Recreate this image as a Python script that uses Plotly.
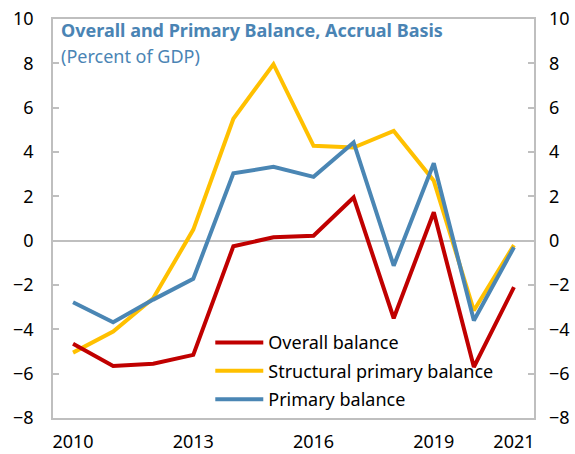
import plotly.graph_objects as go

years = list(range(2010, 2022))
overall = [-4.65, -5.65, -5.55, -5.15, -0.25, 0.15, 0.22, 1.95, -3.5, 1.28, -5.7, -2.1]
structural = [-5.05, -4.1, -2.6, 0.5, 5.5, 7.96, 4.28, 4.2, 4.95, 2.7, -3.15, -0.2]
primary = [-2.78, -3.68, -2.66, -1.72, 3.04, 3.33, 2.88, 4.43, -1.13, 3.49, -3.6, -0.3]
xticks = [2010, 2013, 2016, 2019, 2021]
yticks = [-8, -6, -4, -2, 0, 2, 4, 6, 8, 10]

RED = "#C00000"
YEL = "#FFC000"
BLU = "#4A86B4"
TITLE_BLUE = "#4A84B4"
GRID = "#BFBFBF"
FONT = "Noto Sans"

fig = go.Figure()
fig.add_trace(go.Scatter(x=years, y=structural, mode="lines", name="Structural primary balance",
                         line=dict(color=YEL, width=4), legendrank=2, legendgroup="b"))
fig.add_trace(go.Scatter(x=years, y=primary, mode="lines", name="Primary balance",
                         line=dict(color=BLU, width=4), legendrank=3, legendgroup="c"))
fig.add_trace(go.Scatter(x=years, y=overall, mode="lines", name="Overall balance",
                         line=dict(color=RED, width=4), legendrank=1, legendgroup="a"))
# invisible trace to activate right axis
fig.add_trace(go.Scatter(x=[years[0]], y=[0], yaxis="y2", mode="markers",
                         marker=dict(opacity=0), showlegend=False, hoverinfo="skip"))

axis_font = dict(family=FONT, size=18, color="#000000")
fig.update_layout(
    width=575, height=454,
    margin=dict(l=53, r=41, t=19, b=36),
    paper_bgcolor="white", plot_bgcolor="white",
    font=dict(family=FONT, size=18, color="#000000"),
    xaxis=dict(range=[2009.5, 2021.5], tickvals=xticks, ticktext=[str(t) for t in xticks],
               showgrid=False, zeroline=False, showline=True, linecolor=GRID, linewidth=1.5,
               mirror=True, ticks="", tickfont=axis_font, ticklabelstandoff=7, automargin=False),
    yaxis=dict(range=[-8, 10], tickvals=yticks, showgrid=False,
               zeroline=True, zerolinecolor=GRID, zerolinewidth=1.5,
               showline=True, linecolor=GRID, linewidth=1.5, mirror=True,
               ticks="inside", ticklen=6, tickcolor=GRID, tickwidth=1.5,
               tickfont=axis_font, ticklabelstandoff=14, automargin=False),
    yaxis2=dict(range=[-8, 10], tickvals=yticks, overlaying="y", side="right",
                showgrid=False, zeroline=False, showline=False,
                ticks="inside", ticklen=6, tickcolor=GRID, tickwidth=1.5,
                tickfont=axis_font, ticklabelstandoff=14, automargin=False),
    legend=dict(x=0.327, y=0.235, xanchor="left", yanchor="top", bgcolor="rgba(0,0,0,0)",
                font=dict(family=FONT, size=18, color="#000000"), tracegroupgap=2,
                itemwidth=48),
    showlegend=True,
)

fig.add_annotation(text="<b>Overall and Primary Balance, Accrual Basis</b>", xref="paper", yref="paper",
                   x=0.012, y=0.972, xanchor="left", yanchor="middle", showarrow=False,
                   font=dict(family=FONT, size=18, color=TITLE_BLUE))
fig.add_annotation(text="(Percent of GDP)", xref="paper", yref="paper",
                   x=0.012, y=0.907, xanchor="left", yanchor="middle", showarrow=False,
                   font=dict(family=FONT, size=18, color=TITLE_BLUE))

fig.write_html("out.html", config={"displayModeBar": False},
               post_script="document.body.style.margin='0';document.body.style.padding='0';")
